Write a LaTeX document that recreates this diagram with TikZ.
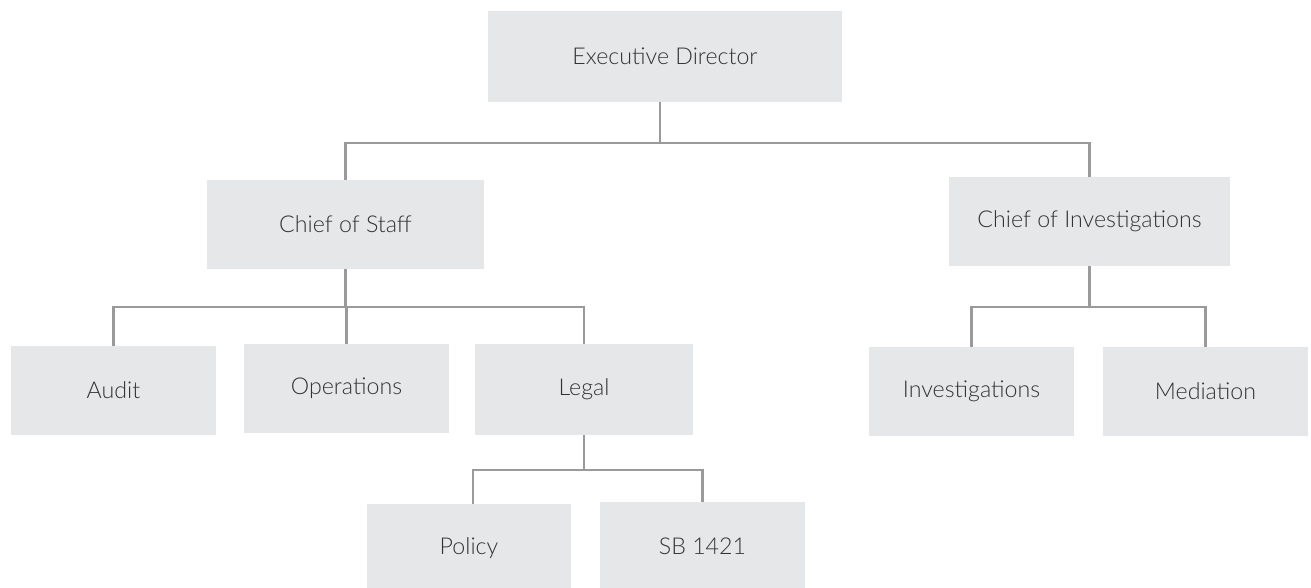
\documentclass[tikz,border=0pt]{standalone}
\usepackage{fontspec}
\setmainfont{Lato}[UprightFont=* Light]
\definecolor{boxfill}{HTML}{E6E7E8}
\definecolor{linecol}{HTML}{9A9A9C}
\definecolor{textcol}{HTML}{333333}
\begin{document}
\begin{tikzpicture}[x=0.75pt,y=-0.75pt,
  orgbox/.style={fill=boxfill,draw=none,inner sep=0pt,text=textcol,
    font=\fontsize{17.4}{21}\selectfont,minimum height=89*0.75pt},
  conn/.style={draw=linecol,line width=1.6pt}]
\useasboundingbox (0,0) rectangle (1311,587);
\begin{scope}
\clip (0,0) rectangle (1311,587);
\node[orgbox,minimum width=354*0.75pt,minimum height=91*0.75pt] (ed) at (665,56.5) {Executive Director};
\node[orgbox,minimum width=277*0.75pt] (cos) at (345.5,224.5) {Chief of Staff};
\node[orgbox,minimum width=281*0.75pt] (coi) at (1089.5,221.5) {Chief of Investigations};
\node[orgbox,minimum width=205*0.75pt] (audit) at (113.5,390.5) {Audit};
\node[orgbox,minimum width=205*0.75pt] (ops) at (346.5,388.5) {Operations};
\node[orgbox,minimum width=218*0.75pt,minimum height=91*0.75pt] (legal) at (584,389.5) {Legal};
\node[orgbox,minimum width=204*0.75pt] (policy) at (469,548.5) {Policy};
\node[orgbox,minimum width=205*0.75pt] (sb) at (702.5,546.5) {SB 1421};
\node[orgbox,minimum width=205*0.75pt] (inv) at (971.5,391.5) {Investigations};
\node[orgbox,minimum width=205*0.75pt] (med) at (1205.5,391.5) {Mediation};
\end{scope}
\coordinate (bus0) at (0,143);
\coordinate (bus1) at (0,307);
\coordinate (bus2) at (0,470);
% top level
\draw[conn] ([xshift=-3.75pt]ed.south) -- ([xshift=-3.75pt]ed.south |- bus0);
\draw[conn] (cos.north) -- (cos.north |- bus0) -- (coi.north |- bus0) -- (coi.north);
% chief of staff
\draw[conn] (cos.south) -- (cos.south |- bus1);
\draw[conn] (audit.north) -- (audit.north |- bus1) -- (legal.north |- bus1) -- (legal.north);
\draw[conn] (ops.north) -- (ops.north |- bus1);
% chief of investigations
\draw[conn] (coi.south) -- (coi.south |- bus1);
\draw[conn] (inv.north) -- (inv.north |- bus1) -- (med.north |- bus1) -- (med.north);
% legal
\draw[conn] (legal.south) -- (legal.south |- bus2);
\draw[conn] ([xshift=3pt]policy.north) -- ([xshift=3pt]policy.north |- bus2) -- (sb.north |- bus2) -- (sb.north);
\end{tikzpicture}
\end{document}
